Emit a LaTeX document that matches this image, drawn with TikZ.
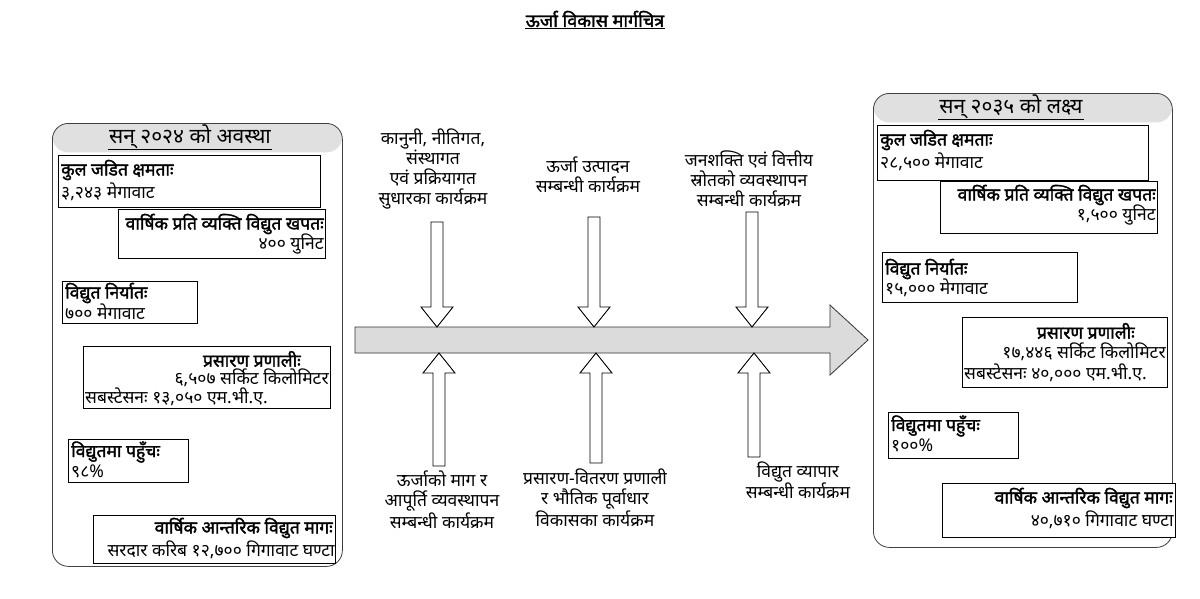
\documentclass[tikz,border=0pt]{standalone}
\usepackage{fontspec}
\newfontfamily\dev[Script=Devanagari]{Noto Sans}
\newfontfamily\devb[Script=Devanagari,FakeBold=1.8]{Noto Sans}
\usetikzlibrary{calc}
\newcommand{\blockarrow}[2]{%
 \draw[hollow] let \p1=(#1), \p2=(#2), \n1={(\y1>\y2)*2-1} in
 (\x1-6pt,\y1) -- (\x1-6pt,{\y2+\n1*20pt}) -- (\x1-16pt,{\y2+\n1*20pt}) -- (\x1,\y2)
 -- (\x1+16pt,{\y2+\n1*20pt}) -- (\x1+6pt,{\y2+\n1*20pt}) -- (\x1+6pt,\y1) -- cycle;}
\begin{document}
\begin{tikzpicture}[x=1pt,y=-1pt,
 panel/.style={draw=black!75, line width=0.8pt, rounded corners=16pt, inner sep=0pt, anchor=north west,
   path picture={\fill[black!12] (path picture bounding box.north west) rectangle ($(path picture bounding box.north east)+(0,29)$);}},
 infobox/.style={draw=black, line width=0.9pt, fill=white, inner sep=0pt, anchor=north west},
 hd/.style={font=\devb\fontsize{17.5}{20}\selectfont, inner sep=0pt},
 vl/.style={font=\dev\fontsize{17.5}{20}\selectfont, inner sep=0pt},
 ptitle/.style={font=\dev\fontsize{21}{24}\selectfont, inner sep=1pt},
 lbl/.style={font=\dev\fontsize{17.5}{20}\selectfont, align=center, inner sep=0pt},
 hollow/.style={draw=black, line width=0.9pt, fill=white, line join=miter},
 mainarr/.style={draw=black!80, line width=0.8pt, fill=black!14, line join=miter},
 uline/.style={line width=0.8pt}]
\path[use as bounding box, fill=white] (0,0) rectangle (1200,598);

% title
\node[font=\devb\fontsize{18}{21}\selectfont, inner sep=1pt] (title) at (595,19) {ऊर्जा विकास मार्गचित्र};
\draw[uline] ($(title.south west)+(0,0)$) -- ($(title.south east)+(0,0)$);

% ---------- left panel ----------
\node[panel, minimum width=290pt, minimum height=443pt] (LP) at (52,123) {};
\node[ptitle] (LPt) at (190,137) {सन् २०२४ को अवस्था};
\draw[uline] ($(LPt.south west)+(0,-1)$) -- ($(LPt.south east)+(0,-1)$);

\node[infobox, minimum width=262pt, minimum height=52pt] (L1) at (58,155) {};
\node[hd, anchor=west] (L1h) at ($(L1.north west)+(3,15)$) {कुल जडित क्षमताः};
\node[vl, anchor=west] (L1v) at ($(L1.north west)+(3,37)$) {३,२४३ मेगावाट};

\node[infobox, minimum width=207pt, minimum height=49pt] (L2) at (118,209) {};
\node[hd, anchor=east] (L2h) at ($(L2.north east)+(-2,15)$) {वार्षिक प्रति व्यक्ति विद्युत खपतः};
\node[vl, anchor=east] (L2v) at ($(L2.north east)+(-2,35)$) {४०० युनिट};

\node[infobox, minimum width=135pt, minimum height=42pt] (L3) at (62,281) {};
\node[hd, anchor=west] (L3h) at ($(L3.north west)+(3,12)$) {विद्युत निर्यातः};
\node[vl, anchor=west] (L3v) at ($(L3.north west)+(3,31)$) {७०० मेगावाट};

\node[infobox, minimum width=247pt, minimum height=62pt] (L4) at (83,346) {};
\node[hd, anchor=east] (L4h) at ($(L4.north east)+(-30,13)$) {प्रसारण प्रणालीः};
\node[vl, anchor=east] (L4v) at ($(L4.north east)+(-2,32)$) {६,५०७ सर्किट किलोमिटर};
\node[vl, anchor=west] (L4s) at ($(L4.north west)+(2,51)$) {सबस्टेसनः १३,०५० एम.भी.ए.};

\node[infobox, minimum width=120pt, minimum height=43pt] (L5) at (68,439) {};
\node[hd, anchor=west] (L5h) at ($(L5.north west)+(3,13)$) {विद्युतमा पहुँचः};
\node[vl, anchor=west] (L5v) at ($(L5.north west)+(3,32)$) {९८\%};

\node[infobox, minimum width=242pt, minimum height=48pt] (L6) at (93,515) {};
\node[hd, anchor=east] (L6h) at ($(L6.north east)+(-3,13)$) {वार्षिक आन्तरिक विद्युत मागः};
\node[vl, anchor=east] (L6v) at ($(L6.north east)+(-1,35)$) {सरदार करिब १२,७०० गिगावाट घण्टा};

% ---------- right panel ----------
\node[panel, minimum width=299pt, minimum height=454pt] (RP) at (873,93) {};
\node[ptitle] (RPt) at (1011,107) {सन् २०३५ को लक्ष्य};
\draw[uline] ($(RPt.south west)+(0,-1)$) -- ($(RPt.south east)+(0,-1)$);

\node[infobox, minimum width=271pt, minimum height=55pt] (R1) at (877,125) {};
\node[hd, anchor=west] (R1h) at ($(R1.north west)+(3,15)$) {कुल जडित क्षमताः};
\node[vl, anchor=west] (R1v) at ($(R1.north west)+(3,37)$) {२८,५०० मेगावाट};

\node[infobox, minimum width=217pt, minimum height=52pt] (R2) at (940,181) {};
\node[hd, anchor=east] (R2h) at ($(R2.north east)+(-2,14)$) {वार्षिक प्रति व्यक्ति विद्युत खपतः};
\node[vl, anchor=east] (R2v) at ($(R2.north east)+(-2,34)$) {१,५०० युनिट};

\node[infobox, minimum width=195pt, minimum height=50pt] (R3) at (882,252) {};
\node[hd, anchor=west] (R3h) at ($(R3.north west)+(3,17)$) {विद्युत निर्यातः};
\node[vl, anchor=west] (R3v) at ($(R3.north west)+(3,36)$) {१५,००० मेगावाट};

\node[infobox, minimum width=205pt, minimum height=70pt] (R4) at (962,317) {};
\node[hd, anchor=east] (R4h) at ($(R4.north east)+(-33,14)$) {प्रसारण प्रणालीः};
\node[vl, anchor=east] (R4v) at ($(R4.north east)+(-2,35)$) {१७,४४६ सर्किट किलोमिटर};
\node[vl, anchor=west] (R4s) at ($(R4.north west)+(2,56)$) {सबस्टेसनः ४०,००० एम.भी.ए.};

\node[infobox, minimum width=130pt, minimum height=46pt] (R5) at (888,412) {};
\node[hd, anchor=west] (R5h) at ($(R5.north west)+(3,14)$) {विद्युतमा पहुँचः};
\node[vl, anchor=west] (R5v) at ($(R5.north west)+(3,33)$) {१००\%};

\node[infobox, minimum width=233pt, minimum height=54pt] (R6) at (942,483) {};
\node[hd, anchor=east] (R6h) at ($(R6.north east)+(-3,15)$) {वार्षिक आन्तरिक विद्युत मागः};
\node[vl, anchor=east] (R6v) at ($(R6.north east)+(-2,37)$) {४०,७१० गिगावाट घण्टा};

% ---------- main arrow ----------
\coordinate (shT) at (355,327);
\coordinate (shB) at (355,353);
\draw[mainarr] (shT) -- (830,327) -- (830,305) -- (868,340) -- (830,375) -- (830,353) -- (shB) -- cycle;

% ---------- labels ----------
\node[lbl] (t1) at (433,169) {कानुनी, नीतिगत,\\ संस्थागत\\ एवं प्रक्रियागत\\ सुधारका कार्यक्रम};
\node[lbl] (t2) at (588,175) {ऊर्जा उत्पादन\\ सम्बन्धी कार्यक्रम};
\node[lbl] (t3) at (749,179) {जनशक्ति एवं वित्तीय\\ स्रोतको व्यवस्थापन\\ सम्बन्धी कार्यक्रम};
\node[lbl] (b1) at (442,500) {ऊर्जाको माग र\\ आपूर्ति व्यवस्थापन\\ सम्बन्धी कार्यक्रम};
\node[lbl] (b2) at (595,498) {प्रसारण-वितरण प्रणाली\\ र भौतिक पूर्वाधार\\ विकासका कार्यक्रम};
\node[lbl] (b3) at (798,480) {विद्युत व्यापार\\ सम्बन्धी कार्यक्रम};

% ---------- block arrows ----------
\coordinate (d1) at (437,222);
\coordinate (d2) at (594,217);
\coordinate (d3) at (752,212);
\coordinate (u1) at (439,466);
\coordinate (u2) at (596,463);
\coordinate (u3) at (754,457);
\blockarrow{d1}{d1 |- shT}
\blockarrow{d2}{d2 |- shT}
\blockarrow{d3}{d3 |- shT}
\blockarrow{u1}{u1 |- shB}
\blockarrow{u2}{u2 |- shB}
\blockarrow{u3}{u3 |- shB}
\end{tikzpicture}
\end{document}
